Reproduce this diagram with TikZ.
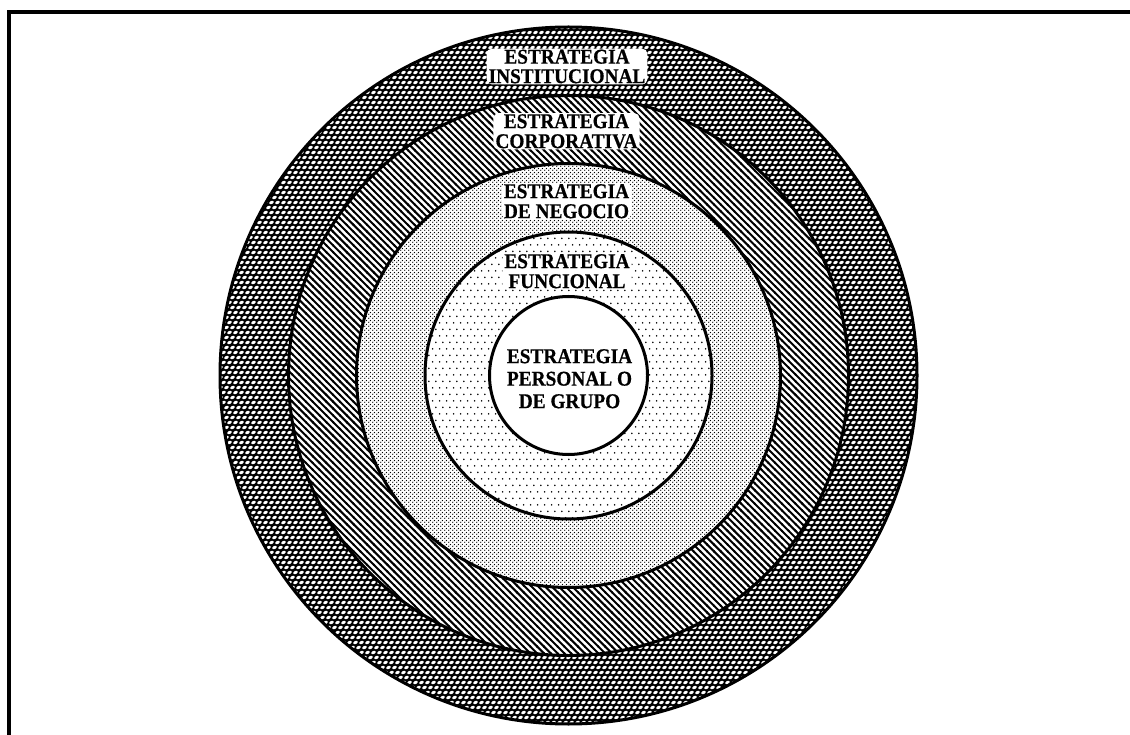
\documentclass[tikz,border=0pt]{standalone}
\usepackage{fontspec}
\setmainfont{Liberation Serif}
\newfontfamily\labfont[FakeStretch=0.92,FakeBold=0.6]{Liberation Serif}
\usetikzlibrary{patterns}

% diagonal hatch, upper-left to lower-right
\pgfdeclarepatternformonly{hatchnw}{\pgfqpoint{-1pt}{-1pt}}{\pgfqpoint{7.8pt}{7.8pt}}{\pgfqpoint{6.8pt}{6.8pt}}{%
  \pgfsetlinewidth{2pt}%
  \pgfpathmoveto{\pgfqpoint{-1pt}{7.8pt}}%
  \pgfpathlineto{\pgfqpoint{7.8pt}{-1pt}}%
  \pgfusepath{stroke}}
% fine dense dots
\pgfdeclarepatternformonly{finedots}{\pgfqpoint{0pt}{0pt}}{\pgfqpoint{3.6pt}{3.6pt}}{\pgfqpoint{3.6pt}{3.6pt}}{%
  \pgfpathcircle{\pgfqpoint{0.9pt}{0.9pt}}{0.75pt}%
  \pgfpathcircle{\pgfqpoint{2.7pt}{2.7pt}}{0.75pt}%
  \pgfusepath{fill}}
% sparse dots
\pgfdeclarepatternformonly{sparsedots}{\pgfqpoint{0pt}{0pt}}{\pgfqpoint{7.2pt}{13.4pt}}{\pgfqpoint{7.2pt}{13.4pt}}{%
  \pgfpathcircle{\pgfqpoint{1.8pt}{3.35pt}}{0.95pt}%
  \pgfpathcircle{\pgfqpoint{5.4pt}{10.05pt}}{0.95pt}%
  \pgfusepath{fill}}
% white blobs (used over black) for the woven band
\pgfdeclarepatternformonly{blobs}{\pgfqpoint{-2pt}{-2pt}}{\pgfqpoint{8pt}{12pt}}{\pgfqpoint{6pt}{10pt}}{%
  \pgfpathellipse{\pgfqpoint{1.5pt}{2.5pt}}{\pgfqpoint{2.1pt}{1.1pt}}{\pgfqpoint{-0.75pt}{1.35pt}}%
  \pgfpathellipse{\pgfqpoint{4.5pt}{7.5pt}}{\pgfqpoint{2.1pt}{1.1pt}}{\pgfqpoint{-0.75pt}{1.35pt}}%
  \pgfusepath{fill}}

\tikzset{
  ring/.style={draw=black, line width=3pt},
  lab/.style={font=\labfont\bfseries\fontsize{21}{20}\selectfont, align=center,
    anchor=north, fill=white, inner xsep=2pt, inner ysep=1pt, rounded corners=5pt},
  labtight/.style={lab, font=\labfont\bfseries\fontsize{21}{19.5}\selectfont},
  labplain/.style={font=\labfont\bfseries\fontsize{21}{22.5}\selectfont, align=center,
    anchor=north, inner sep=1pt},
  frameline/.style={line width=3.2pt}
}

\begin{document}
\begin{tikzpicture}[x=1pt,y=-1pt]
\useasboundingbox (0,0) rectangle (1130,735);
\fill[white] (0,0) rectangle (1130,735);

% frame (top and left edges visible)
\coordinate (fbl) at (9,735);
\coordinate (ftl) at (9,12);
\coordinate (ftr) at (1130,12);
\draw[frameline] (fbl) -- (ftl) -- (ftr);

\coordinate (c) at (568.5,375.5);

% institucional band
\fill[black] (c) circle[radius=348.5pt];
\fill[pattern=blobs, pattern color=white] (c) circle[radius=348.5pt];
% corporativa band
\fill[white] (c) circle[radius=280pt];
\fill[pattern=hatchnw, pattern color=black] (c) circle[radius=280pt];
% negocio band
\fill[white] (c) circle[radius=212pt];
\fill[pattern=finedots, pattern color=black] (c) circle[radius=212pt];
% funcional band
\fill[white] (c) circle[radius=143.5pt];
\fill[pattern=sparsedots, pattern color=black] (c) circle[radius=143.5pt];
% personal
\fill[white] (c) circle[radius=79pt];

% outlines
\draw[ring] (c) circle[radius=348.5pt];
\draw[ring] (c) circle[radius=280pt];
\draw[ring] (c) circle[radius=212pt];
\draw[ring] (c) circle[radius=143.5pt];
\draw[ring] (c) circle[radius=79pt];

% labels (top of capitals given)
\node[labtight] (inst) at (567,48.5) {ESTRATEGIA\\INSTITUCIONAL};
\node[lab] (corp) at (566.5,113) {ESTRATEGIA\\CORPORATIVA};
\node[lab] (neg) at (566.5,183) {ESTRATEGIA\\DE NEGOCIO};
\node[lab] (fun) at (567,253) {ESTRATEGIA\\FUNCIONAL};
\node[labplain] (per) at (569.5,348) {ESTRATEGIA\\PERSONAL O\\DE GRUPO};
\end{tikzpicture}
\end{document}
